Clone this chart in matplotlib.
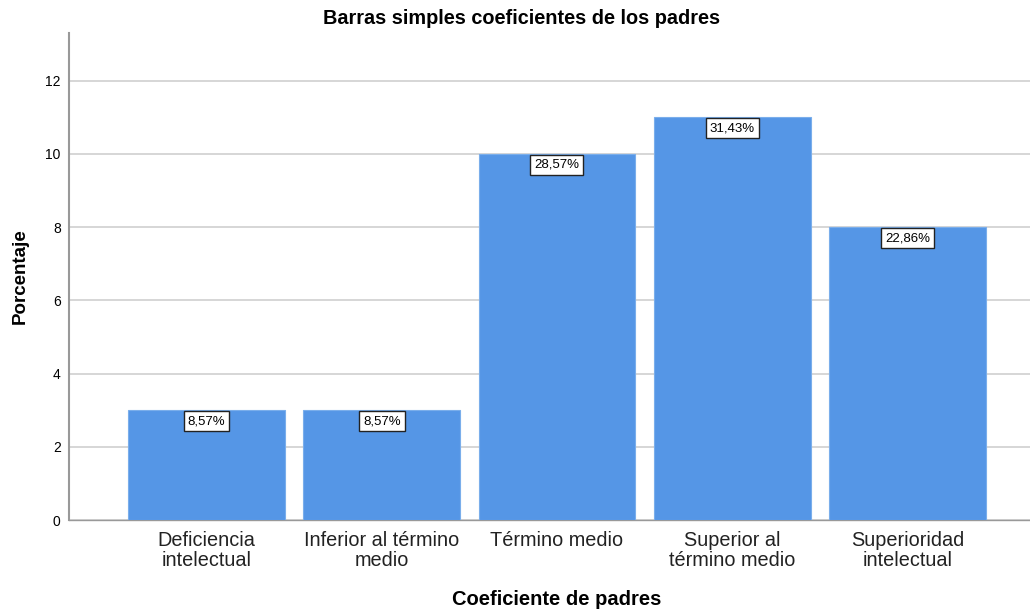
import matplotlib
matplotlib.use("Agg")
import matplotlib.pyplot as plt

categories = ["Deficiencia\nintelectual", "Inferior al término\nmedio", "Término medio",
              "Superior al\ntérmino medio", "Superioridad\nintelectual"]
counts = [3, 3, 10, 11, 8]
labels = ["8,57%", "8,57%", "28,57%", "31,43%", "22,86%"]
yticks = [0, 2, 4, 6, 8, 10, 12]

plt.rcParams['font.family'] = ['Liberation Sans', 'DejaVu Sans']

fig = plt.figure(figsize=(10.3, 6.1), dpi=100)
ax = fig.add_axes([69/1030, 1 - 520/610, (1030 - 69)/1030, (520 - 33)/610])

x = list(range(len(categories)))
ax.bar(x, counts, width=0.895, color="#5596E6", edgecolor="#7AAEEB", linewidth=0.8, zorder=3)
ax.set_xlim(-0.785, 4.70)
ax.set_ylim(0, 13.3)
ax.set_yticks(yticks)
ax.set_yticklabels([str(t) for t in yticks], fontsize=10)
ax.set_xticks(x)
ax.set_xticklabels(categories, fontsize=14.3, color="#222222", linespacing=1.08)
ax.tick_params(axis='both', length=0, pad=6)
ax.tick_params(axis='x', pad=8)
ax.grid(axis='y', color="#D0D0D0", linewidth=1.2, zorder=0)
for s in ["top", "right"]:
    ax.spines[s].set_visible(False)
ax.spines["left"].set_color("#999999")
ax.spines["left"].set_linewidth(1.5)
ax.spines["bottom"].set_color("#999999")
ax.spines["bottom"].set_linewidth(1.0)

for xi, c, lab in zip(x, counts, labels):
    ax.annotate(lab, (xi, c), xytext=(0, -8), textcoords="offset points",
                ha="center", va="center", fontsize=9.5, zorder=5,
                bbox=dict(boxstyle="square,pad=0.3", facecolor="white", edgecolor="#222222", linewidth=1))

ax.set_ylabel("Porcentaje", fontsize=13.5, fontweight="bold", labelpad=12)
ax.set_xlabel("Coeficiente de padres", fontsize=14.5, fontweight="bold")
ax.xaxis.set_label_coords((557 - 69) / 961, -(590 - 520) / 487)
fig.text(522/1030, 1 - 19/610, "Barras simples coeficientes de los padres", ha="center", va="center",
         fontsize=14.3, fontweight="bold")

fig.savefig("out.png", dpi=100)
